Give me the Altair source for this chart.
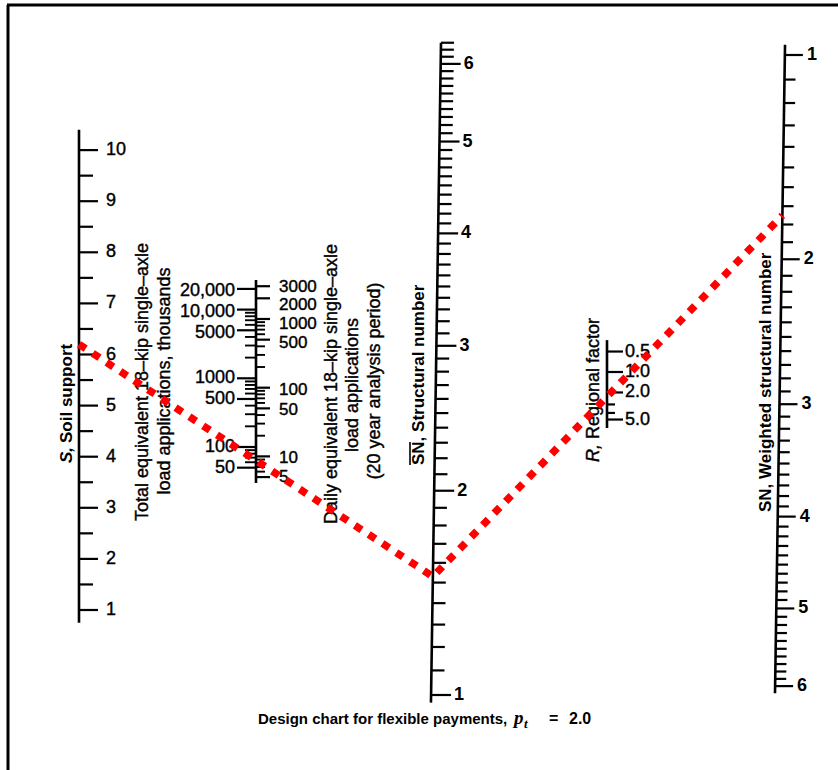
import math

import altair as alt
import pandas as pd

W, H = 838, 770

# ---------------------------------------------------------------- scale values
soil_major = [1, 2, 3, 4, 5, 6, 7, 8, 9, 10]
soil_minor = [1.5, 2.5, 3.5, 4.5, 5.5, 6.5, 7.5, 8.5, 9.5]

# total equivalent 18-kip loads, thousands (left side of the load scale)
total_major = [50, 100, 500, 1000, 5000, 10000, 20000]
total_labels = ["50", "100", "500", "1000", "5000", "10,000", "20,000"]
total_minor = [60, 70, 80, 90, 200, 300, 400, 600, 700, 800, 900,
               2000, 3000, 4000, 6000, 7000, 8000, 9000]

# daily equivalent 18-kip loads (right side of the load scale)
daily_major = [5, 10, 50, 100, 500, 1000, 2000, 3000]
daily_labels = ["5", "10", "50", "100", "500", "1000", "2000", "3000"]
daily_minor = [6, 7, 8, 9, 20, 30, 40, 60, 70, 80, 90,
               200, 300, 400, 600, 700, 800, 900]
analysis_years = 20

snbar_major = [1, 2, 3, 4, 5, 6]
regional_major = [0.5, 1.0, 2.0, 5.0]
regional_labels = ["0.5", "1.0", "2.0", "5.0"]
regional_minor = [3, 4]
wsn_major = [1, 2, 3, 4, 5, 6]

# worked example drawn across the chart
design_soil = 6.2
design_snbar = 1.53
design_wsn = 1.75

# ---------------------------------------------------------------- geometry
LOG2 = math.log10(2)


def soil_y(s):
    return 610 - 51.1 * (s - 1)


def load_y(total):
    return 447 - 68.7 * (math.log10(total) - 2)


def daily_to_total(d):
    return d * 365 * analysis_years / 1000


def snbar_y(sn):
    return 695 - 1160 * (math.log10(sn + 1) - LOG2)


def snbar_x(y):
    return 441 - (y - 43) * 10 / 657


def reg_y(r):
    return 372 + 68 * math.log10(r)


def wsn_y(sn):
    return 55 + 1160 * (math.log10(sn + 1) - LOG2)


def wsn_x(y):
    return 785 - (y - 47) * 10 / 646


SOIL_X, LOAD_X, REG_X = 79, 256, 607

# crowded daily labels are set slightly below their ticks
daily_label_nudge = {3000: 1, 2000: 7, 1000: 5, 500: 3, 100: 2, 50: 2, 10: 2, 5: 0}
total_label_nudge = {20000: 2, 10000: 2, 5000: 3, 1000: 0, 500: 0, 100: 0, 50: 0}

tenths = lambda lo, hi: [round(lo + 0.1 * i, 1) for i in range(int(round((hi - lo) * 10)) + 1)]
snbar_minor = [v for v in tenths(1.0, 6.3) if v not in snbar_major]
wsn_minor = [v for v in tenths(1.0, 6.0) if v not in wsn_major]

segs = []


def seg(x, y, x2, y2, w):
    segs.append(dict(x=x, y=y, x2=x2, y2=y2, w=w))


# axis spines
seg(SOIL_X, soil_y(0.75), SOIL_X, soil_y(10.4), 2.6)
seg(LOAD_X, load_y(30), LOAD_X, load_y(27000), 2.6)
y0, y1 = snbar_y(0.97), snbar_y(6.3)
seg(snbar_x(y0), y0, snbar_x(y1), y1, 2.6)
seg(REG_X, reg_y(0.34), REG_X, reg_y(6.66), 2.6)
y0, y1 = wsn_y(0.96), wsn_y(6.1)
seg(wsn_x(y0), y0, wsn_x(y1), y1, 2.6)

# ticks
for v in soil_major:
    seg(SOIL_X, soil_y(v), SOIL_X + 19, soil_y(v), 2.2)
for v in soil_minor:
    seg(SOIL_X, soil_y(v), SOIL_X + 14, soil_y(v), 2.2)
for v in total_major:
    seg(LOAD_X - 19, load_y(v), LOAD_X, load_y(v), 2.2)
for v in total_minor:
    seg(LOAD_X - 11, load_y(v), LOAD_X, load_y(v), 1.9)
for v in daily_major:
    y = load_y(daily_to_total(v))
    seg(LOAD_X, y, LOAD_X + 14, y, 2.2)
for v in daily_minor:
    y = load_y(daily_to_total(v))
    seg(LOAD_X, y, LOAD_X + 9, y, 1.9)
for v in snbar_major:
    y = snbar_y(v)
    seg(snbar_x(y), y, snbar_x(y) + 20, y, 2.2)
for v in snbar_minor:
    y = snbar_y(v)
    seg(snbar_x(y), y, snbar_x(y) + 13, y, 2.2)
for v in regional_major:
    seg(REG_X, reg_y(v), REG_X + 16, reg_y(v), 2.2)
for v in regional_minor:
    seg(REG_X, reg_y(v), REG_X + 8, reg_y(v), 2.2)
for v in wsn_major:
    y = wsn_y(v)
    seg(wsn_x(y), y, wsn_x(y) + 18, y, 2.2)
for v in wsn_minor:
    y = wsn_y(v)
    seg(wsn_x(y), y, wsn_x(y) + 11, y, 2.2)

# overline on the SN of the structural-number title
seg(410, 465, 410, 442, 1.6)
# frame
seg(7, 5, W, 5, 3)
seg(8, 5, 8, H, 3)

seg_df = pd.DataFrame(segs)

# tick labels
left_plain = pd.DataFrame(
    [dict(x=SOIL_X + 27, y=soil_y(v), text=str(v)) for v in soil_major]
    + [dict(x=REG_X + 18, y=reg_y(v), text=t)
       for v, t in zip(regional_major, regional_labels)]
)
daily_text = pd.DataFrame(
    [dict(x=LOAD_X + 23, y=load_y(daily_to_total(v)) + daily_label_nudge[v], text=t)
     for v, t in zip(daily_major, daily_labels)]
)
right_plain = pd.DataFrame(
    [dict(x=LOAD_X - 21, y=load_y(v) + total_label_nudge[v], text=t)
     for v, t in zip(total_major, total_labels)]
)
left_bold = pd.DataFrame(
    [dict(x=snbar_x(snbar_y(v)) + 23, y=snbar_y(v), text=str(v)) for v in snbar_major]
    + [dict(x=wsn_x(wsn_y(v)) + 22, y=wsn_y(v), text=str(v)) for v in wsn_major]
)

# rotated scale titles
titles_center = pd.DataFrame([
    dict(x=143, y=382, text="Total equivalent 18\u2013kip single\u2013axle"),
    dict(x=165, y=381, text="load applications, thousands"),
    dict(x=332, y=384, text="Daily equivalent 18\u2013kip single\u2013axle"),
    dict(x=353, y=385, text="load applications"),
    dict(x=375, y=381, text="(20 year analysis period)"),
])
titles_bold = pd.DataFrame([
    dict(x=67, y=443, text="Soil support"),
    dict(x=419, y=465, text="SN, Structural number"),
    dict(x=766, y=512, text="SN, Weighted structural number"),
])
titles_bold_italic = pd.DataFrame([dict(x=67, y=463, text="S,")])
titles_plain = pd.DataFrame([dict(x=594, y=439, text="Regional factor")])
titles_italic = pd.DataFrame([dict(x=594, y=462, text="R,")])

# caption
cap_main = pd.DataFrame([dict(x=258, y=724, text="Design chart for flexible payments,")])
cap_value = pd.DataFrame([dict(x=549, y=724, text="="),
                          dict(x=569, y=724, text="2.0")])
cap_p = pd.DataFrame([dict(x=514, y=724, text="p")])
cap_t = pd.DataFrame([dict(x=524, y=728, text="t")])

# design path through the scales
path_df = pd.DataFrame([
    dict(order=0, x=SOIL_X, y=soil_y(design_soil)),
    dict(order=1, x=snbar_x(snbar_y(design_snbar)), y=snbar_y(design_snbar)),
    dict(order=2, x=wsn_x(wsn_y(design_wsn)), y=wsn_y(design_wsn)),
])

# ---------------------------------------------------------------- chart
xs = alt.Scale(domain=[0, W], nice=False, zero=False)
ys = alt.Scale(domain=[0, H], nice=False, zero=False, reverse=True)
X = alt.X("x:Q", scale=xs, axis=None)
Y = alt.Y("y:Q", scale=ys, axis=None)
FONT = "Liberation Sans"
INK = dict(stroke="black", strokeWidth=0.4)


def text_layer(df, **mark):
    opts = dict(font=FONT, color="black", baseline="middle")
    opts.update(mark)
    return alt.Chart(df).mark_text(**opts).encode(x=X, y=Y, text="text:N")


rules = alt.Chart(seg_df).mark_rule(color="black", strokeCap="butt").encode(
    x=X, y=Y, x2="x2:Q", y2="y2:Q",
    strokeWidth=alt.StrokeWidth("w:Q", scale=None),
)

layers = [
    rules,
    text_layer(left_plain, align="left", fontSize=18, **INK),
    text_layer(daily_text, align="left", fontSize=17, **INK),
    text_layer(right_plain, align="right", fontSize=18, **INK),
    text_layer(left_bold, align="left", fontSize=18, fontWeight="bold"),
    text_layer(titles_center, align="center", fontSize=18, angle=270, **INK),
    text_layer(titles_bold, align="left", fontSize=17, fontWeight="bold", angle=270),
    text_layer(titles_bold_italic, align="left", fontSize=17, fontWeight="bold",
               fontStyle="italic", angle=270),
    text_layer(titles_plain, align="left", fontSize=18, angle=270, **INK),
    text_layer(titles_italic, align="left", fontSize=18, fontStyle="italic", angle=270, **INK),
    text_layer(cap_main, align="left", baseline="alphabetic", fontSize=15, fontWeight="bold"),
    text_layer(cap_value, align="left", baseline="alphabetic", fontSize=16, fontWeight="bold"),
    text_layer(cap_p, align="left", baseline="alphabetic", fontSize=19,
               font="Liberation Serif", fontStyle="italic", fontWeight="bold"),
    text_layer(cap_t, align="left", baseline="alphabetic", fontSize=13,
               font="Liberation Serif", fontStyle="italic", fontWeight="bold"),
    alt.Chart(path_df).mark_line(color="#ff0000", strokeWidth=7.5, strokeDash=[8, 8.5],
                                 strokeCap="butt").encode(x=X, y=Y, order="order:Q"),
]

chart = alt.layer(*layers).properties(
    width=W, height=H, padding=0, autosize=alt.AutoSizeParams(type="none"),
    background="white",
).configure_view(stroke=None)

chart.save("out.html", embed_options={"renderer": "svg", "actions": False})
